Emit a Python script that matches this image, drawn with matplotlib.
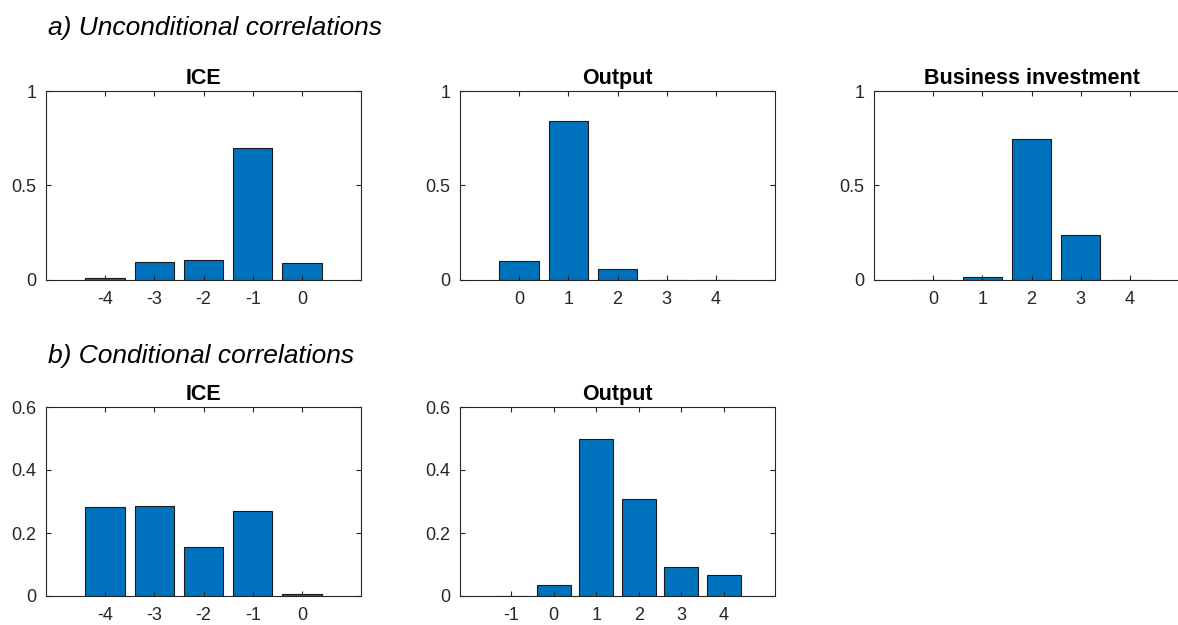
import matplotlib
matplotlib.use("Agg")
import matplotlib.pyplot as plt

plt.rcParams['font.family'] = ['Liberation Sans', 'DejaVu Sans']

# Data
ice_uncond_lags = [-4, -3, -2, -1, 0]
ice_uncond_vals = [0.012, 0.097, 0.108, 0.700, 0.088]

out_uncond_lags = [0, 1, 2, 3, 4]
out_uncond_vals = [0.100, 0.841, 0.058, 0.001, 0.001]

bi_uncond_lags = [0, 1, 2, 3, 4]
bi_uncond_vals = [0.001, 0.014, 0.748, 0.236, 0.001]

ice_cond_lags = [-4, -3, -2, -1, 0]
ice_cond_vals = [0.281, 0.287, 0.154, 0.271, 0.007]

out_cond_lags = [-1, 0, 1, 2, 3, 4]
out_cond_vals = [0.001, 0.036, 0.497, 0.308, 0.092, 0.066]

top_yticks = [0, 0.5, 1]
top_yticklabels = ['0', '0.5', '1']
bot_yticks = [0, 0.2, 0.4, 0.6]
bot_yticklabels = ['0', '0.2', '0.4', '0.6']

BAR = '#0072BD'
AX = '#262626'

fig = plt.figure(figsize=(11.78, 6.25), dpi=100)

W = 315 / 1178
H = 189 / 625
top_b = 1 - 280 / 625
bot_b = 1 - 596 / 625
lefts = [46 / 1178, 460 / 1178, 874 / 1178]


def panel(rect, lags, vals, title, yticks, yticklabels, ylim):
    ax = fig.add_axes(rect)
    ax.bar(lags, vals, width=0.8, color=BAR, edgecolor='#1a1a1a', linewidth=0.8)
    ax.set_xlim(min(lags) - 1.2, max(lags) + 1.2)
    ax.set_ylim(*ylim)
    ax.set_xticks(lags)
    ax.set_xticklabels([str(v) for v in lags])
    ax.set_yticks(yticks)
    ax.set_yticklabels(yticklabels)
    ax.tick_params(direction='in', length=3.5, width=0.8, colors=AX,
                   labelsize=13, top=True, right=True)
    ax.tick_params(axis='x', pad=8)
    ax.tick_params(axis='y', pad=7)
    for s in ax.spines.values():
        s.set_color(AX)
        s.set_linewidth(0.8)
    ax.set_title(title, fontsize=15.5, fontweight='bold', pad=5, color='black')
    return ax


panel([lefts[0], top_b, W, H], ice_uncond_lags, ice_uncond_vals, 'ICE',
      top_yticks, top_yticklabels, (0, 1))
panel([lefts[1], top_b, W, H], out_uncond_lags, out_uncond_vals, 'Output',
      top_yticks, top_yticklabels, (0, 1))
panel([lefts[2], top_b, W, H], bi_uncond_lags, bi_uncond_vals, 'Business investment',
      top_yticks, top_yticklabels, (0, 1))
panel([lefts[0], bot_b, W, H], ice_cond_lags, ice_cond_vals, 'ICE',
      bot_yticks, bot_yticklabels, (0, 0.6))
out_ax = panel([lefts[1], bot_b, W, H], out_cond_lags, out_cond_vals, 'Output',
               bot_yticks, bot_yticklabels, (0, 0.6))
out_ax.set_xlim(-2.2, 5.2)

fig.text(48 / 1178, 1 - 35 / 625, 'a) Unconditional correlations', fontsize=19,
         style='italic', ha='left', va='baseline', color='black')
fig.text(48 / 1178, 1 - 363 / 625, 'b) Conditional correlations', fontsize=19,
         style='italic', ha='left', va='baseline', color='black')

fig.savefig('out.png', dpi=100)
